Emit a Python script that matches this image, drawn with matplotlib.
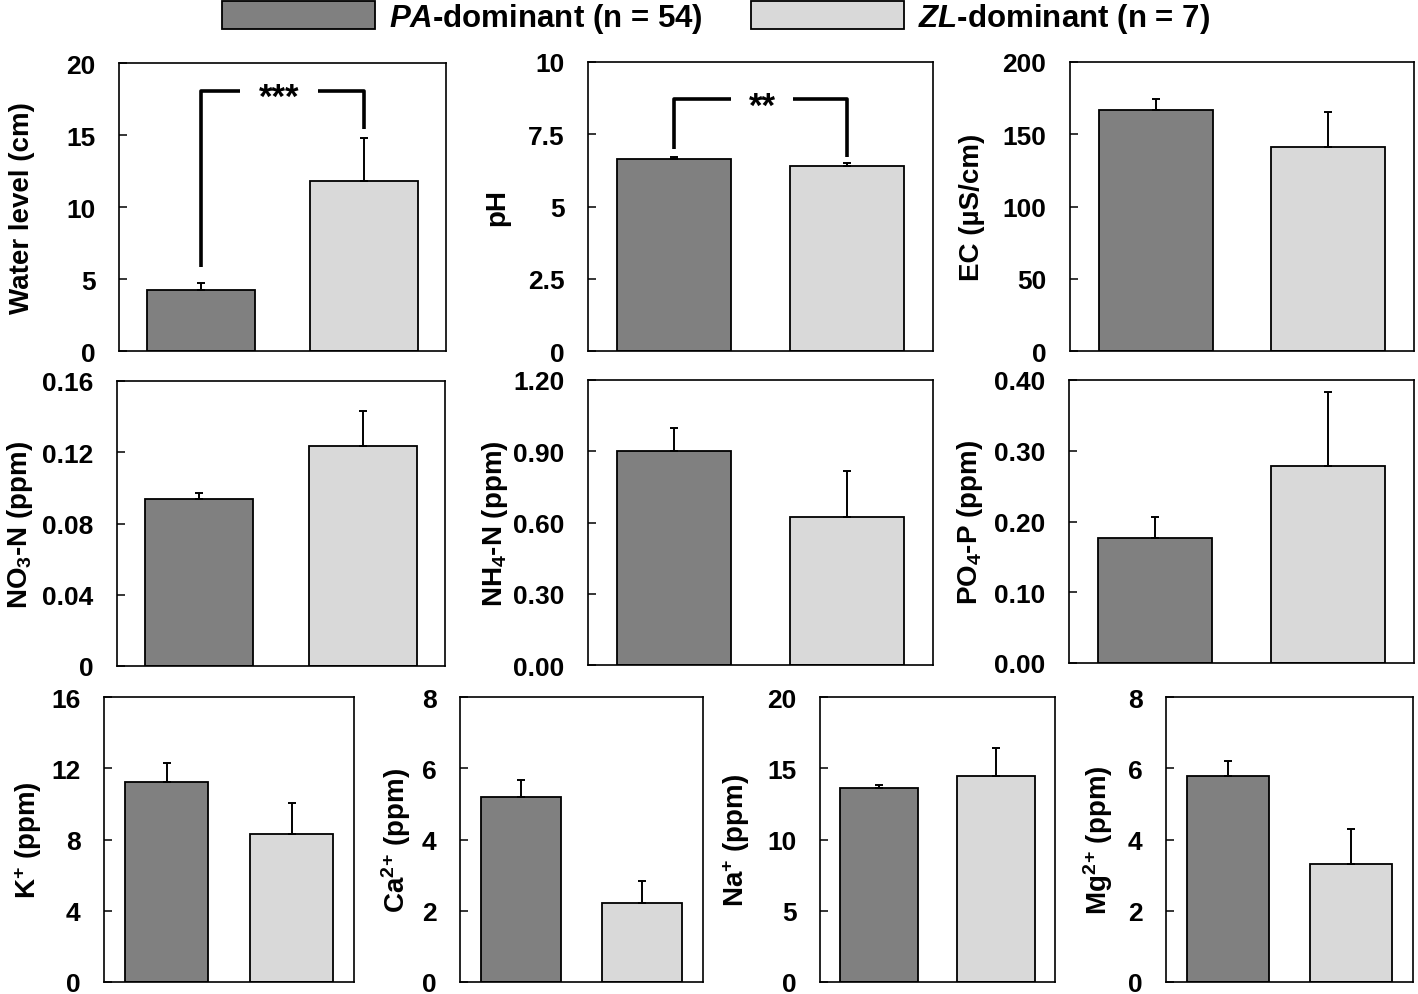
import numpy as np
import matplotlib.pyplot as plt
from matplotlib.patches import Patch
from matplotlib.transforms import offset_copy

plt.rcParams['font.family'] = ['Liberation Sans', 'DejaVu Sans']
plt.rcParams['font.weight'] = 'bold'
plt.rcParams['mathtext.fontset'] = 'custom'
plt.rcParams['mathtext.rm'] = 'Liberation Sans:bold'
plt.rcParams['mathtext.bf'] = 'Liberation Sans:bold'
plt.rcParams['mathtext.it'] = 'Liberation Sans:bold:italic'
plt.rcParams['mathtext.default'] = 'bf'

#################################################
# data (mean, upper error) for PA-dominant and ZL-dominant sites

groups = ["$\\mathit{PA}$-dominant (n = 54)", "$\\mathit{ZL}$-dominant (n = 7)"]
colors = ["#808080", "#d9d9d9"]

water_mean = [4.24, 11.8]
water_err = [0.46, 3.0]
ph_mean = [6.66, 6.40]
ph_err = [0.04, 0.12]
ec_mean = [166.6, 141.2]
ec_err = [7.6, 24.2]
no3_mean = [0.0938, 0.1236]
no3_err = [0.0036, 0.0195]
nh4_mean = [0.90, 0.625]
nh4_err = [0.10, 0.19]
po4_mean = [0.177, 0.278]
po4_err = [0.030, 0.105]
k_mean = [11.23, 8.29]
k_err = [1.09, 1.76]
ca_mean = [5.18, 2.22]
ca_err = [0.50, 0.62]
na_mean = [13.59, 14.48]
na_err = [0.21, 1.97]
mg_mean = [5.77, 3.32]
mg_err = [0.43, 0.98]

ylabels = ["Water level (cm)", "pH", "EC (µS/cm)",
           "NO$_3$-N (ppm)", "NH$_4$-N (ppm)", "PO$_4$-P (ppm)",
           "K$^{+}$ (ppm)", "Ca$^{2}$$^{+}$ (ppm)", "Na$^{+}$ (ppm)", "Mg$^{2}$$^{+}$ (ppm)"]

water_ticks = ["0", "5", "10", "15", "20"]
ph_ticks = ["0", "2.5", "5", "7.5", "10"]
ec_ticks = ["0", "50", "100", "150", "200"]
no3_ticks = ["0", "0.04", "0.08", "0.12", "0.16"]
nh4_ticks = ["0.00", "0.30", "0.60", "0.90", "1.20"]
po4_ticks = ["0.00", "0.10", "0.20", "0.30", "0.40"]
k_ticks = ["0", "4", "8", "12", "16"]
ca_ticks = ["0", "2", "4", "6", "8"]
na_ticks = ["0", "5", "10", "15", "20"]
mg_ticks = ["0", "2", "4", "6", "8"]

#################################################
# layout in pixels: left, right, top, bottom, ylabel centre x

W, H = 1418, 995
boxes = [
    (119, 446, 64, 352, 22),
    (588, 933, 63, 352, 497),
    (1070, 1414, 63, 352, 972),
    (117, 445, 382, 667, 20),
    (588, 933, 381, 666, 495),
    (1069, 1414, 381, 664, 970),
    (104, 354, 698, 983, 28),
    (460, 703, 698, 983, 396),
    (820, 1055, 698, 983, 736),
    (1166, 1413, 698, 983, 1098),
]


def bar_panel(fig, box, means, errs, ticks, ylabel):
    l, r, t, b, lx = box
    ax = fig.add_axes([l / W, 1 - b / H, (r - l) / W, (b - t) / H])
    x = np.arange(len(means))
    ax.bar(x, means, width=0.66, color=colors, edgecolor='black', linewidth=1.3, zorder=2)
    ax.errorbar(x, means, yerr=[np.zeros(len(errs)), errs], fmt='none', ecolor='black',
                elinewidth=1.4, capsize=3, capthick=1.4, zorder=3)
    vals = [float(s) for s in ticks]
    ax.set_ylim(vals[0], vals[-1])
    ax.set_xlim(-0.5, 1.5)
    ax.set_yticks(vals)
    ax.set_yticklabels(ticks)
    ax.set_xticks([])
    ax.tick_params(axis='y', direction='in', length=6, width=1.1, pad=17, labelsize=19)
    for s in ax.spines.values():
        s.set_linewidth(1.2)
    ax.set_ylabel(ylabel, fontsize=20, fontweight='bold', va='center')
    ax.yaxis.set_label_coords((lx - l) / (r - l), 0.5)
    return ax


def bracket(fig, ax, y0, y_top, y1, gap, label):
    ax.plot([0, 0, gap[0]], [y0, y_top, y_top], color='black', lw=2.6, solid_capstyle='butt', zorder=4)
    ax.plot([gap[1], 1, 1], [y_top, y_top, y1], color='black', lw=2.6, solid_capstyle='butt', zorder=4)
    tr = offset_copy(ax.transData, fig=fig, x=0, y=-7, units='dots')
    ax.text((gap[0] + gap[1]) / 2, y_top, label, ha='center', va='center',
            fontsize=25, fontweight='bold', transform=tr)


fig = plt.figure(figsize=(W / 100, H / 100), dpi=100)

panels = [
    (water_mean, water_err, water_ticks),
    (ph_mean, ph_err, ph_ticks),
    (ec_mean, ec_err, ec_ticks),
    (no3_mean, no3_err, no3_ticks),
    (nh4_mean, nh4_err, nh4_ticks),
    (po4_mean, po4_err, po4_ticks),
    (k_mean, k_err, k_ticks),
    (ca_mean, ca_err, ca_ticks),
    (na_mean, na_err, na_ticks),
    (mg_mean, mg_err, mg_ticks),
]

axes = []
for box, (m, e, tk), lab in zip(boxes, panels, ylabels):
    axes.append(bar_panel(fig, box, m, e, tk, lab))

bracket(fig, axes[0], 5.8, 18.07, 15.4, (0.24, 0.72), "***")
bracket(fig, axes[1], 6.98, 8.71, 6.73, (0.33, 0.69), "**")

handles = [Patch(facecolor=c, edgecolor='black', linewidth=1.3) for c in colors]
fig.legend(handles, groups, ncol=2, loc='upper center', bbox_to_anchor=(716 / W, 1 - 2 / H),
           frameon=False, fontsize=22.5, handlelength=4.9, handleheight=1.0,
           handletextpad=0.45, columnspacing=1.55, borderpad=0, borderaxespad=0)

plt.savefig("out.png", dpi=100)
